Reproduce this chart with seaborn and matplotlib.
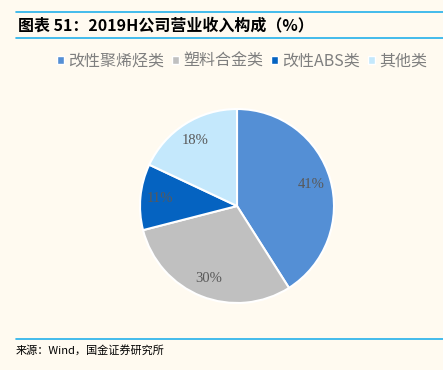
import matplotlib
matplotlib.use("Agg")
import matplotlib.pyplot as plt
import seaborn as sns
from matplotlib.patches import Patch
from matplotlib.lines import Line2D

# data
categories = ["改性聚烯烃类", "塑料合金类", "改性ABS类", "其他类"]
shares = [41, 30, 11, 18]
colors = ["#548fd5", "#c0c0c0", "#0563c1", "#c4e8fc"]

title = "图表 51：2019H公司营业收入构成（%）"
source = "来源：Wind，国金证券研究所"

sns.set_theme(style="white")
plt.rcParams["font.family"] = ["Noto Sans CJK SC", "DejaVu Sans"]

bg = "#fffaf0"
fig = plt.figure(figsize=(4.43, 3.70), dpi=100, facecolor=bg)

# pie axes: centre ~ (237, 206) px, radius ~ 97 px
W, H = 443, 370
r = 97
cx, cy = 237, 206
ax = fig.add_axes([(cx - r) / W, 1 - (cy + r) / H, 2 * r / W, 2 * r / H])
ax.set_facecolor(bg)
wedges, texts, autotexts = ax.pie(
    shares, colors=colors, startangle=90, counterclock=False,
    autopct=lambda p: f"{p:.0f}%", pctdistance=0.8,
    wedgeprops=dict(edgecolor="white", linewidth=1.5),
    textprops=dict(color="#595959", fontsize=10.5, family=["Liberation Serif"]),
)
ax.set_xlim(-1.0, 1.0)
ax.set_ylim(-1.0, 1.0)
ax.set_aspect("equal")
ax.axis("off")

# header / footer rules
line_kw = dict(color="#23b0ea", linewidth=1.2, transform=fig.transFigure)
fig.add_artist(Line2D([16 / W, 1], [1 - 12 / H] * 2, **line_kw))
fig.add_artist(Line2D([16 / W, 1], [1 - 38 / H] * 2, **line_kw))
fig.add_artist(Line2D([16 / W, 1], [1 - 339 / H] * 2, **line_kw))

fig.text(18 / W, 1 - 25 / H, title, fontsize=11.5, fontweight="bold",
         fontstyle="italic", va="center", ha="left", color="black")
fig.text(16 / W, 1 - 350 / H, source, fontsize=8, va="center", ha="left",
         color="black")

handles = [Patch(facecolor=c, edgecolor="white") for c in colors]
fig.legend(handles, categories, loc="center", ncol=4,
           bbox_to_anchor=(242 / W, 1 - 61 / H), frameon=False,
           fontsize=11.5, handlelength=0.45, handleheight=0.45,
           handletextpad=0.25, columnspacing=0.5, labelcolor="#7f7f7f")

fig.savefig("out.png", dpi=100, facecolor=bg)
